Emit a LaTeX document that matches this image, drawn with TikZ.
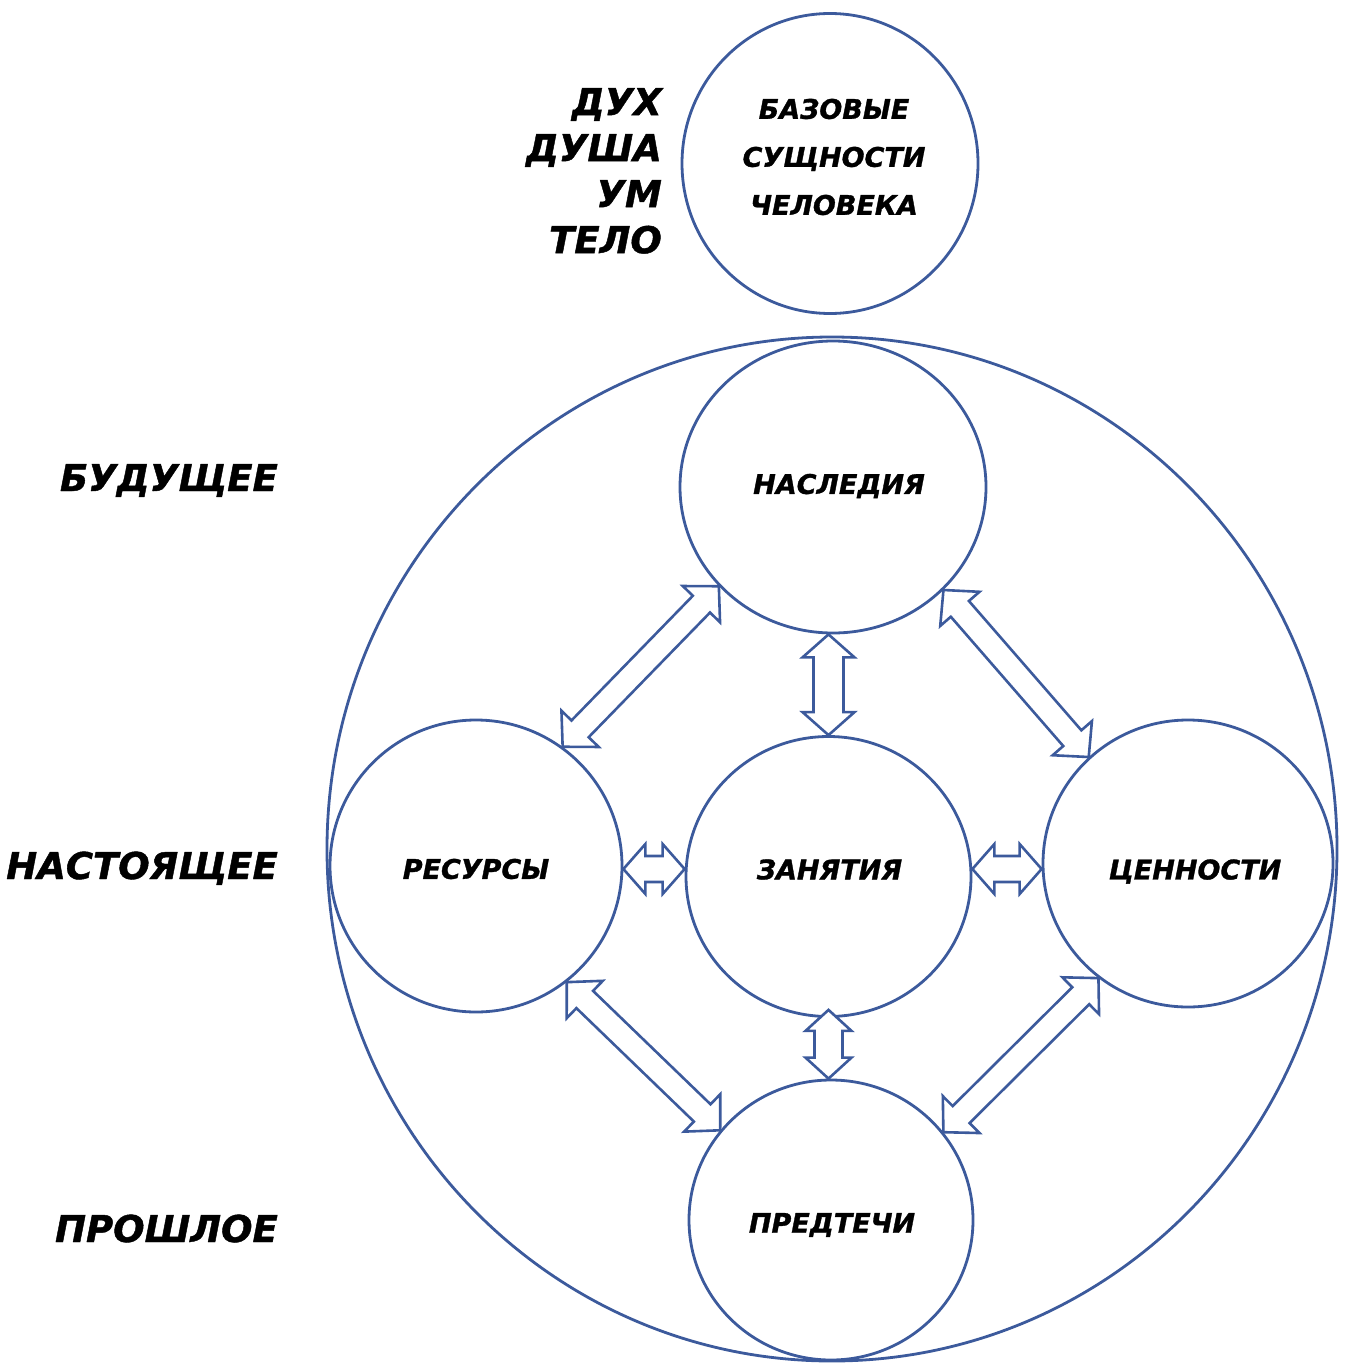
\documentclass[tikz,border=0pt]{standalone}
\usepackage{fontspec}
\setmainfont{DejaVu Sans}[BoldItalicFeatures={FakeBold=1.2}]
\usetikzlibrary{shapes.geometric,calc}
\definecolor{cblue}{HTML}{3C5A9C}
\tikzset{
 circ/.style={ellipse, draw=cblue, line width=2.8pt, inner sep=0pt},
 intxt/.style={inner sep=0pt, font=\fontsize{27}{30}\selectfont\bfseries\itshape},
 lbl/.style={inner sep=0pt, font=\fontsize{37}{46}\selectfont\bfseries\itshape},
 arr/.style={draw=cblue, line width=2.6pt, line join=miter, fill=white},
}
\newcommand\dblarr[5]{%
 \draw[arr] (#1) -- ($(#1)!#3!(#2)!#4!90:(#2)$) -- ($(#1)!#3!(#2)!#5!90:(#2)$)
   -- ($(#2)!#3!(#1)!#5!-90:(#1)$) -- ($(#2)!#3!(#1)!#4!-90:(#1)$) -- (#2)
   -- ($(#2)!#3!(#1)!#4!90:(#1)$) -- ($(#2)!#3!(#1)!#5!90:(#1)$)
   -- ($(#1)!#3!(#2)!#5!-90:(#2)$) -- ($(#1)!#3!(#2)!#4!-90:(#2)$) -- cycle;}
\begin{document}
\begin{tikzpicture}[x=1pt,y=-1pt]
\useasboundingbox (0,0) rectangle (1352,1364);
% top circle
\node[circ, minimum width=296pt, minimum height=300pt] (base) at (830,163.5) {};
\node[intxt, align=center, font=\fontsize{27}{48}\selectfont\bfseries\itshape] (basetxt) at (834,157) {БАЗОВЫЕ\\СУЩНОСТИ\\ЧЕЛОВЕКА};
\node[lbl, align=right, anchor=north east] (levels) at (662,88) {ДУХ\\ДУША\\УМ\\ТЕЛО};
% big circle
\node[circ, minimum width=1010pt, minimum height=1024pt] (outer) at (832,849) {};
\node[circ, minimum width=306pt, minimum height=292pt,
      label={[intxt, xshift=6pt, yshift=1pt]center:НАСЛЕДИЯ}] (nasl) at (833,487) {};
\node[circ, minimum width=292pt, minimum height=292pt,
      label={[intxt, yshift=-3pt]center:РЕСУРСЫ}] (res) at (476,866) {};
\node[circ, minimum width=285pt, minimum height=280pt,
      label={[intxt, xshift=1pt, yshift=7pt]center:ЗАНЯТИЯ}] (zan) at (828.5,876.5) {};
\node[circ, minimum width=290pt, minimum height=287pt,
      label={[intxt, xshift=7pt, yshift=-8pt]center:ЦЕННОСТИ}] (cenn) at (1188,863.5) {};
\node[circ, minimum width=284pt, minimum height=280pt,
      label={[intxt, xshift=1pt, yshift=-5pt]center:ПРЕДТЕЧИ}] (pred) at (831,1220) {};
% time labels
\node[lbl, anchor=base east] (fut) at (278,491) {БУДУЩЕЕ};
\node[lbl, anchor=base east] (pres) at (278,879) {НАСТОЯЩЕЕ};
\node[lbl, anchor=base east] (past) at (278,1242) {ПРОШЛОЕ};
% arrow end points
\coordinate (zs) at ($(zan.south)+(0,-8)$);
\coordinate (hy) at (0,869);
% arrows
\dblarr{res.54}{nasl.221}{25pt}{26pt}{12pt}
\dblarr{nasl.317}{cenn.133}{25pt}{26pt}{12pt}
\dblarr{res.308}{pred.141}{25pt}{26pt}{12pt}
\dblarr{cenn.232}{pred.38}{25pt}{26pt}{12pt}
\dblarr{nasl.south -| zan.north}{zan.north}{23pt}{26pt}{15pt}
\dblarr{zs}{pred.north -| zs}{21pt}{23pt}{14pt}
\dblarr{res.east |- hy}{zan.west |- hy}{22pt}{25pt}{13pt}
\dblarr{zan.east |- hy}{cenn.west |- hy}{22pt}{25pt}{13pt}
\end{tikzpicture}
\end{document}
